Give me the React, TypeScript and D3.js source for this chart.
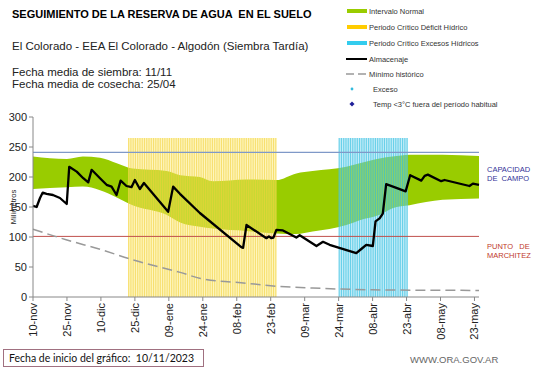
import * as d3 from "d3";

const tickLabels = ["10-nov", "25-nov", "10-dic", "25-dic", "09-ene", "24-ene", "08-feb", "23-feb", "09-mar", "24-mar", "08-abr", "23-abr", "08-may", "23-may"];
const yTicks = [0, 50, 100, 150, 200, 250, 300];

// dias desde 10/11/2023
const bandDays = [0, 15, 22, 29.6, 37, 44, 59, 65, 73.7, 79.4, 94.3, 107.5, 116.3, 123.5, 138.4, 144.3, 153.1, 158.8, 166.3, 180.9, 197];
const bandUpper = [234, 230, 234, 232, 223, 214, 210, 203, 200, 193, 196, 195, 206, 210, 217, 223, 231, 234, 237, 237, 235];
const bandLower = [180, 183, 184, 178, 166, 153, 137, 124, 117, 114, 110, 106, 105, 109, 120, 128, 137, 148, 153, 162, 164];

const almDays = [0, 1.6, 3.1, 4.3, 6, 8.8, 11.9, 14.9, 16, 19.3, 22.2, 24.4, 25.9, 29.6, 32.5, 34.7, 36.9, 38.7, 41.3, 43.5, 45, 47.2, 49, 59.7, 61.9, 64.9, 73.7, 92, 92.8, 94.3, 103.1, 104.2, 105.3, 106.2, 107.5, 110.4, 113.4, 116.3, 117.8, 125.2, 128.1, 131, 142.8, 145, 147.2, 150.1, 151.3, 153.1, 154.5, 156, 159, 164.6, 166.6, 171.5, 173, 174.4, 180.3, 181.8, 192.8, 194.3, 197];
const almValues = [152, 150, 165, 174, 172, 170, 165, 155, 217, 209, 198, 191, 212, 198, 187, 184, 170, 194, 185, 183, 195, 180, 190, 142, 184, 172, 140, 83, 82, 120, 98, 101, 98, 99, 112, 111, 105, 99, 103, 85, 92, 87, 73, 80, 87, 85, 126, 131, 139, 188, 184, 176, 203, 194, 202, 204, 193, 195, 185, 189, 187];

const minDays = [0, 15, 30, 44, 65, 74, 94, 107.5, 123.5, 150, 197];
const minValues = [113, 95, 79, 62, 41, 31, 23, 18, 15, 12, 11];

const deficitDays = d3.range(42, 108);
const excesoDays = d3.range(135, 166);
const periodTop = 265;
const capacidad = 241;
const marchitez = 101;

const legendItems = ["Intervalo Normal", "Periodo Crítico Déficit Hídrico", "Periodo Crítico Excesos Hídricos", "Almacenaje", "Mínimo histórico", "Exceso", "Temp <3°C fuera del período habitual"];

export default function App() {
  const width = 541;
  const height = 368;
  const margin = { top: 117, right: 62, bottom: 71, left: 33 };
  const x = d3.scaleLinear().domain([0, 197]).range([margin.left, width - margin.right]);
  const y = d3.scaleLinear().domain([0, 300]).range([height - margin.bottom, margin.top]);
  const font = "Liberation Sans, Arial, sans-serif";

  const band = d3.area<number>()
    .x((d) => x(bandDays[d]))
    .y0((d) => y(bandLower[d]))
    .y1((d) => y(bandUpper[d]))
    .curve(d3.curveMonotoneX);
  const almLine = d3.line<number>().x((d) => x(almDays[d])).y((d) => y(almValues[d]));
  const minLine = d3.line<number>().x((d) => x(minDays[d])).y((d) => y(minValues[d])).curve(d3.curveMonotoneX);

  const periodRect = (days: number[], bg: string, stripe: string) => (
    <g>
      <rect x={x(days[0])} y={y(periodTop)} width={x(days[days.length - 1] + 0.6) - x(days[0])} height={y(0) - y(periodTop)} fill={bg} opacity={0.45} />
      {days.map((d) => (
        <rect key={d} x={x(d)} y={y(periodTop)} width={1.1} height={y(0) - y(periodTop)} fill={stripe} opacity={0.6} />
      ))}
    </g>
  );

  const legendX = 347;
  const legendY = [11, 27, 43, 59, 74, 89, 104];
  const pre = { whiteSpace: "pre" as const };

  return (
    <svg width={width} height={height} style={{ position: "absolute", left: 0, top: 0, background: "#fff" }} fontFamily={font}>
      <text x={12} y={18} fontSize={11} fontWeight="bold" fill="#000" style={pre}>SEGUIMIENTO DE LA RESERVA DE AGUA  EN EL SUELO</text>
      <text x={12} y={50} fontSize={11.5} fill="#222">El Colorado - EEA El Colorado - Algodón (Siembra Tardía)</text>
      <text x={12} y={76} fontSize={11.5} fill="#222">Fecha media de siembra: 11/11</text>
      <text x={12} y={88} fontSize={11.5} fill="#222">Fecha media de cosecha: 25/04</text>

      {legendItems.map((label, i) => (
        <text key={label} x={i >= 5 ? 373 : 369} y={legendY[i] + 2.7} fontSize={7.5} fill="#333">{label}</text>
      ))}
      <rect x={legendX} y={legendY[0] - 2} width={20} height={4} fill="#99cc00" />
      <rect x={legendX} y={legendY[1] - 2} width={20} height={4} fill="#ffcc00" />
      <rect x={legendX} y={legendY[2] - 2} width={20} height={4} fill="#33ccee" />
      <line x1={legendX - 1} x2={legendX + 20} y1={legendY[3]} y2={legendY[3]} stroke="#000" strokeWidth={2} />
      <line x1={legendX - 1} x2={legendX + 20} y1={legendY[4]} y2={legendY[4]} stroke="#999" strokeWidth={1.5} strokeDasharray="8 4" />
      <circle cx={352} cy={legendY[5]} r={1.4} fill="#33bbdd" />
      <rect x={-1.8} y={-1.8} width={3.6} height={3.6} transform={`translate(352,${legendY[6]}) rotate(45)`} fill="#1f1f99" />

      <path d={band(d3.range(bandDays.length)) ?? ""} fill="#99cc00" />
      {periodRect(deficitDays, "#fdeb70", "#f2d13a")}
      {periodRect(excesoDays, "#7fd8ef", "#2bbde0")}

      <line x1={x(0)} x2={x(197)} y1={y(capacidad)} y2={y(capacidad)} stroke="#7f99c8" strokeWidth={1.2} />
      <line x1={x(0)} x2={x(197)} y1={y(marchitez)} y2={y(marchitez)} stroke="#c0504d" strokeWidth={1} />
      <path d={minLine(d3.range(minDays.length)) ?? ""} fill="none" stroke="#999" strokeWidth={1.5} strokeDasharray="10 5" />
      <path d={almLine(d3.range(almDays.length)) ?? ""} fill="none" stroke="#000" strokeWidth={2.3} strokeLinejoin="round" />

      <line x1={x(0)} x2={x(0)} y1={y(0)} y2={y(300)} stroke="#888" strokeWidth={1} />
      <line x1={x(0)} x2={x(197)} y1={y(0)} y2={y(0)} stroke="#888" strokeWidth={1} />
      {yTicks.map((t) => (
        <g key={t}>
          <line x1={x(0) - 4} x2={x(0)} y1={y(t)} y2={y(t)} stroke="#888" />
          <text x={x(0) - 6} y={y(t)} dy="0.35em" textAnchor="end" fontSize={11} fill="#222">{t}</text>
        </g>
      ))}
      {tickLabels.map((label, i) => (
        <g key={label}>
          <line x1={x(i * 15)} x2={x(i * 15)} y1={y(0)} y2={y(0) + 4} stroke="#888" />
          <text transform={`translate(${x(i * 15) + 4},${y(0) + 6}) rotate(-90)`} textAnchor="end" fontSize={11} fill="#222">{label}</text>
        </g>
      ))}
      <text transform={`translate(16,${y(150)}) rotate(-90)`} textAnchor="middle" fontSize={7.5} fill="#222">Milímetros</text>

      <text x={487} y={172} fontSize={7.5} fill="#333399" style={pre}>CAPACIDAD</text>
      <text x={487} y={181} fontSize={7.5} fill="#333399" style={pre}>DE  CAMPO</text>
      <text x={487} y={249} fontSize={7.5} fill="#c0392b" style={pre}>PUNTO   DE</text>
      <text x={487} y={258} fontSize={7.5} fill="#c0392b" style={pre}>MARCHITEZ</text>

      <rect x={3.5} y={349.5} width={200} height={17} fill="#fff" stroke="#a07080" strokeWidth={1} />
      <text x={9} y={362} fontSize={10.5} fontFamily="Lato, sans-serif" fill="#111" style={pre}>Fecha de inicio del gráfico:  10/11/2023</text>
      <text x={410} y={363} fontSize={9.5} fill="#666">WWW.ORA.GOV.AR</text>
    </svg>
  );
}
